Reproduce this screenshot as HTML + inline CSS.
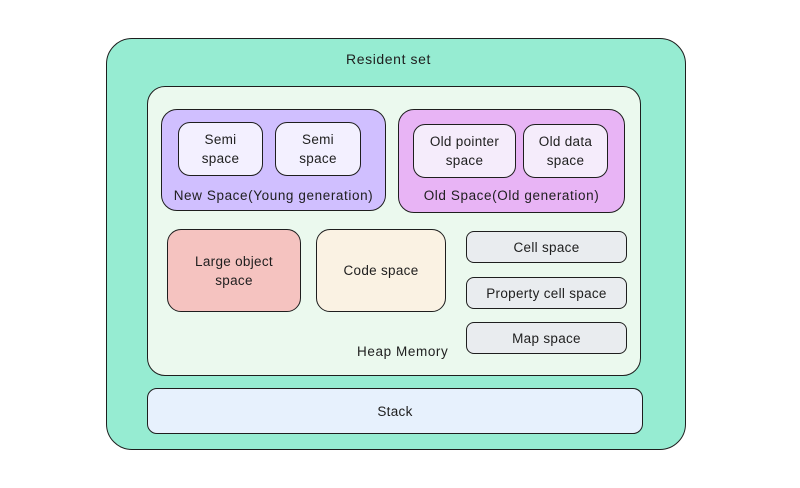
<!DOCTYPE html>
<html><head><meta charset="utf-8"><style>
body{margin:0;width:800px;height:488px;background:#fff;position:relative;overflow:hidden;font-family:"Liberation Sans",sans-serif;color:#1e1e1e;}
.b{position:absolute;box-sizing:border-box;border:1.5px solid #1e1e1e;border-radius:12px;display:flex;align-items:center;justify-content:center;text-align:center;font-size:13.5px;line-height:19px;letter-spacing:0.3px;}
.t{position:absolute;font-size:13.5px;white-space:nowrap;letter-spacing:0.6px;text-align:center;}
</style></head><body>
<div class="b" style="left:106px;top:38px;width:580px;height:412px;background:#96ecd2;border-radius:26px;"></div>
<div class="t" style="left:346px;top:51px;font-size:14px;">Resident set</div>
<div class="b" style="left:147px;top:86px;width:494px;height:290px;background:#ebf9ee;border-radius:18px;"></div>
<div class="b" style="left:161px;top:109px;width:225px;height:102px;background:#d0bfff;border-radius:16px;"></div>
<div class="t" style="left:161px;width:225px;top:188px;">New Space(Young generation)</div>
<div class="b" style="left:178px;top:122px;width:85px;height:54px;background:#f3f0ff;">Semi<br>space</div>
<div class="b" style="left:275px;top:122px;width:86px;height:54px;background:#f3f0ff;">Semi<br>space</div>
<div class="b" style="left:398px;top:109px;width:227px;height:104px;background:#e8b4f5;border-radius:16px;"></div>
<div class="t" style="left:398px;width:227px;top:188px;">Old Space(Old generation)</div>
<div class="b" style="left:413px;top:124px;width:103px;height:54px;background:#f5ecfb;">Old pointer<br>space</div>
<div class="b" style="left:523px;top:124px;width:85px;height:54px;background:#f5ecfb;">Old data<br>space</div>
<div class="b" style="left:167px;top:229px;width:134px;height:83px;background:#f5c3c0;border-radius:14px;">Large object<br>space</div>
<div class="b" style="left:316px;top:229px;width:130px;height:83px;background:#faf2e3;border-radius:14px;">Code space</div>
<div class="b" style="left:466px;top:231px;width:161px;height:32px;background:#e9ecef;border-radius:8px;">Cell space</div>
<div class="b" style="left:466px;top:277px;width:161px;height:32px;background:#e9ecef;border-radius:8px;">Property cell space</div>
<div class="b" style="left:466px;top:322px;width:161px;height:32px;background:#e9ecef;border-radius:8px;">Map space</div>
<div class="t" style="left:357px;top:344px;">Heap Memory</div>
<div class="b" style="left:147px;top:388px;width:496px;height:46px;background:#e7f1fd;border-radius:10px;">Stack</div>
</body></html>
